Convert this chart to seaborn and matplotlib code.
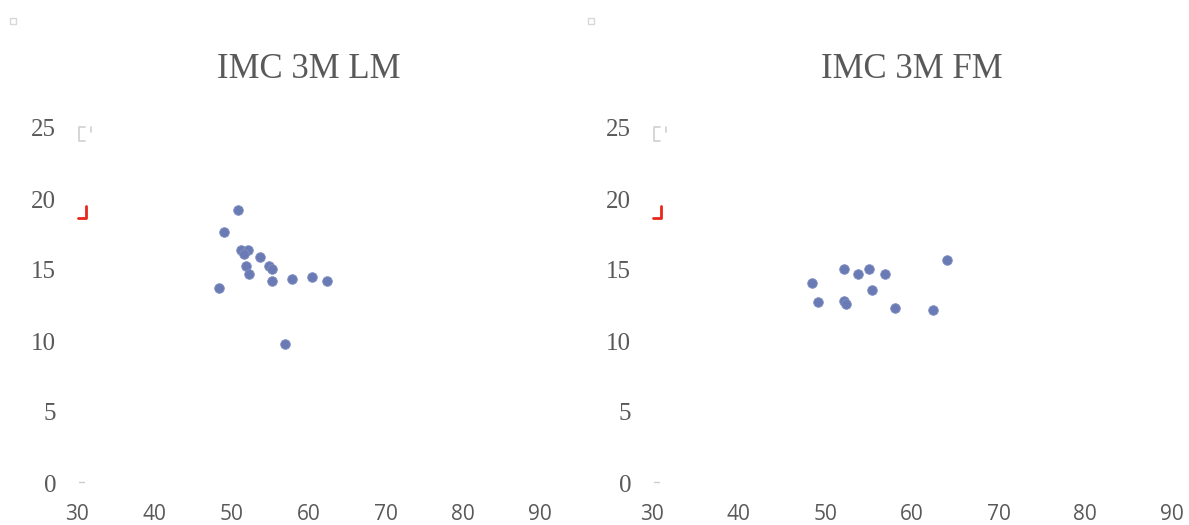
import matplotlib
matplotlib.use("Agg")
import matplotlib.pyplot as plt
import seaborn as sns
import pandas as pd
from matplotlib.lines import Line2D
from matplotlib.patches import Rectangle

# Data
lm_x = [50.8, 49.1, 51.2, 52.1, 51.7, 53.7, 51.9, 54.9, 55.3, 52.3, 55.3, 57.9, 60.5, 62.4, 48.4, 56.9]
lm_y = [19.25, 17.7, 16.4, 16.4, 16.1, 15.9, 15.3, 15.3, 15.1, 14.7, 14.25, 14.4, 14.5, 14.25, 13.7, 9.8]
fm_x = [48.5, 52.1, 53.8, 55.0, 56.9, 64.0, 55.4, 49.2, 52.1, 52.4, 58.0, 62.4]
fm_y = [14.1, 15.1, 14.7, 15.1, 14.7, 15.7, 13.6, 12.75, 12.85, 12.6, 12.3, 12.2]
titles = ["IMC 3M LM", "IMC 3M FM"]
x_ticks = [30, 40, 50, 60, 70, 80, 90]
y_ticks = [0, 5, 10, 15, 20, 25]

sns.set_theme(style="white")
plt.rcParams['font.family'] = ['DejaVu Sans']

W, H = 1189, 525
fig = plt.figure(figsize=(W / 100, H / 100), dpi=100)

txt = "#595959"
pt_color = "#6a7ab4"

panels = [
    (pd.DataFrame({"x": lm_x, "y": lm_y}), titles[0], 77, 540),
    (pd.DataFrame({"x": fm_x, "y": fm_y}), titles[1], 652, 1172),
]

for df, title, x0, x1 in panels:
    ax = fig.add_axes([x0 / W, (H - 483) / H, (x1 - x0) / W, 355 / H])
    sns.scatterplot(data=df, x="x", y="y", ax=ax, color=pt_color, s=48,
                    edgecolor="#8090c0", linewidth=0.6, legend=False)
    ax.set_xlim(30, 90)
    ax.set_ylim(0, 25)
    ax.set_xticks(x_ticks)
    ax.set_yticks(y_ticks)
    ax.set_xlabel("")
    ax.set_ylabel("")
    for s in ax.spines.values():
        s.set_visible(False)
    ax.tick_params(axis="x", length=0, pad=15, labelsize=15, labelcolor=txt)
    ax.tick_params(axis="y", length=0, pad=15, labelsize=18, labelcolor=txt)
    for lab in ax.get_yticklabels():
        lab.set_family("Liberation Serif")
    for lab in ax.get_xticklabels():
        lab.set_family("Open Sans")
    ax.set_title(title, fontsize=25, color=txt, family="Liberation Serif", pad=36)
    ax.set_facecolor("none")

    # small decorative artifacts near the y axis
    def fx(px):
        return px / W
    def fy(py):
        return 1 - py / H
    fig.add_artist(Line2D([fx(x0 + 8), fx(x0 + 2), fx(x0 + 2), fx(x0 + 8)],
                          [fy(127), fy(127), fy(141), fy(141)], color="#d0d0d0", lw=1.2))
    fig.add_artist(Line2D([fx(x0 + 14), fx(x0 + 14)], [fy(127), fy(132)], color="#d0d0d0", lw=1.2))
    fig.add_artist(Line2D([fx(x0 + 1), fx(x0 + 9), fx(x0 + 9)],
                          [fy(218), fy(218), fy(206)], color="#e8261b", lw=2))
    fig.add_artist(Line2D([fx(x0 + 2), fx(x0 + 7)], [fy(482), fy(482)], color="#cccccc", lw=1))

for px in (10, 588):
    fig.add_artist(Rectangle((px / W, 1 - 24 / H), 6 / W, 6 / H, fill=False,
                             edgecolor="#d8d8d8", lw=1, transform=fig.transFigure))

fig.savefig("out.png", dpi=100)
